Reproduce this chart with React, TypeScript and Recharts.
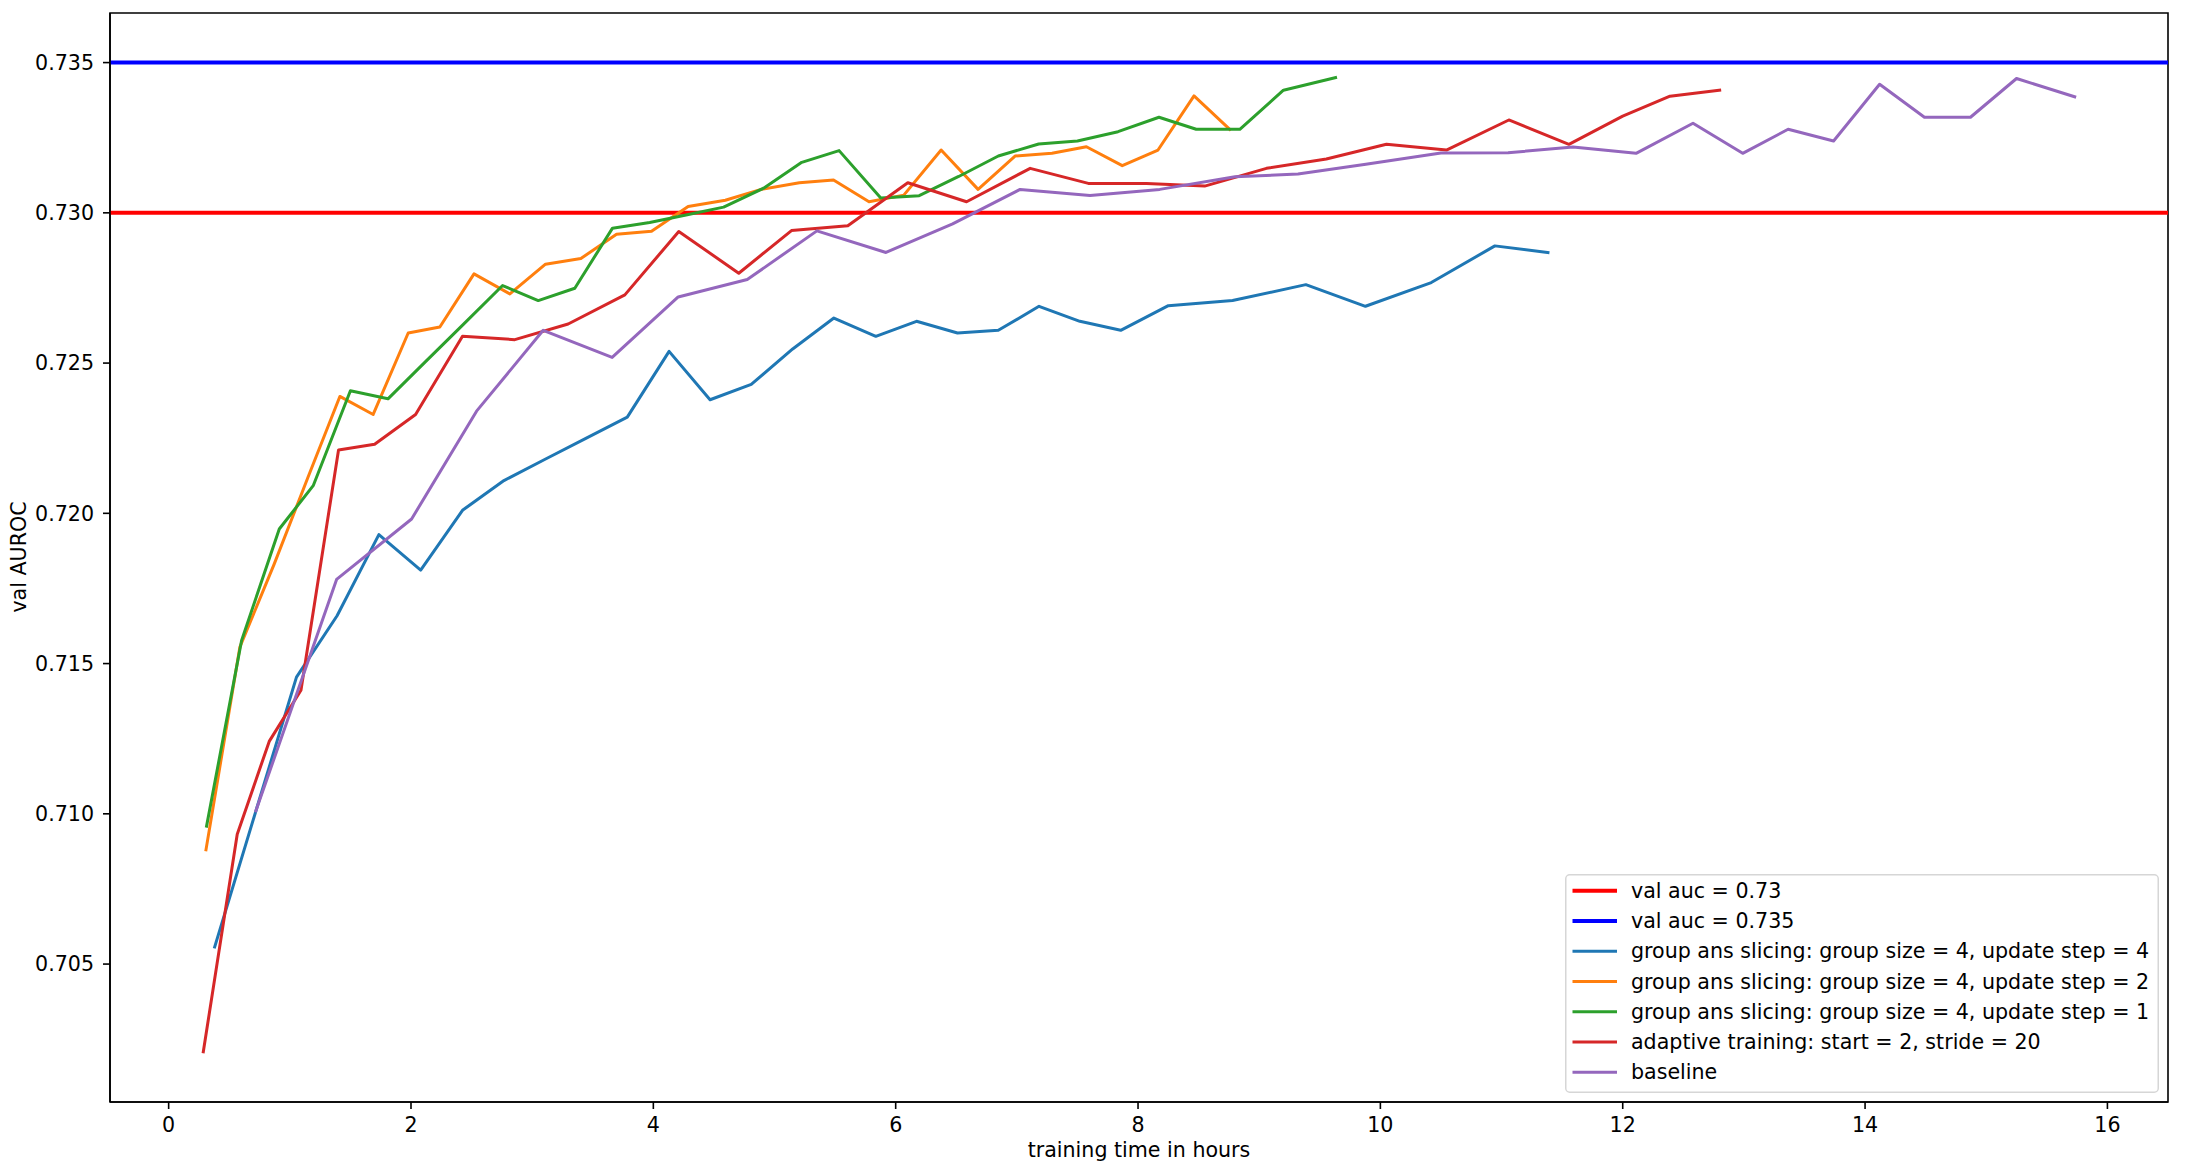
import { LineChart, Line, XAxis, YAxis, ReferenceLine, ReferenceArea } from "recharts";

const FONT = "'DejaVu Sans', sans-serif";
const FONT_SIZE = 20.6;

// axis limits (matplotlib autoscale with 5% margins)
const X_MIN = -0.484;
const X_MAX = 16.5;
const Y_MIN = 0.70041;
const Y_MAX = 0.73665;

const xTicks = [0, 2, 4, 6, 8, 10, 12, 14, 16];
const yTicks = [0.705, 0.71, 0.715, 0.72, 0.725, 0.73, 0.735];

const targetLow = 0.73;
const targetHigh = 0.735;

// group ans slicing: group size = 4, update step = 4
const step4Hours = [0.38, 1.055, 1.39, 1.735, 2.08, 2.425, 2.767, 3.107, 3.447, 3.785, 4.13, 4.468, 4.808, 5.15, 5.49, 5.836, 6.172, 6.51, 6.847, 7.183, 7.52, 7.857, 8.25, 8.78, 9.385, 9.877, 10.42, 10.945, 11.383];
const step4Auc = [0.70557, 0.71455, 0.71659, 0.71929, 0.71811, 0.7201, 0.72109, 0.7218, 0.7225, 0.7232, 0.72539, 0.72378, 0.72429, 0.72547, 0.7265, 0.72589, 0.72639, 0.726, 0.72609, 0.72689, 0.72639, 0.72609, 0.72691, 0.72708, 0.72761, 0.72689, 0.72768, 0.7289, 0.72868];

// group ans slicing: group size = 4, update step = 2
const step2Hours = [0.308, 0.588, 0.87, 1.15, 1.413, 1.688, 1.977, 2.238, 2.52, 2.816, 3.11, 3.402, 3.696, 3.985, 4.287, 4.594, 4.89, 5.205, 5.487, 5.78, 6.067, 6.375, 6.68, 6.985, 7.29, 7.574, 7.87, 8.165, 8.462, 8.757];
const step2Auc = [0.7088, 0.71555, 0.7183, 0.7212, 0.72389, 0.72329, 0.726, 0.7262, 0.72797, 0.7273, 0.72829, 0.72848, 0.72929, 0.72939, 0.73021, 0.73042, 0.73078, 0.731, 0.73109, 0.73037, 0.73059, 0.73209, 0.73078, 0.73189, 0.73198, 0.7322, 0.73157, 0.73209, 0.73389, 0.73278];

// group ans slicing: group size = 4, update step = 1
const step1Hours = [0.313, 0.602, 0.913, 1.193, 1.5, 1.81, 2.12, 2.43, 2.756, 3.05, 3.352, 3.663, 3.97, 4.27, 4.58, 4.91, 5.225, 5.533, 5.877, 6.194, 6.52, 6.847, 7.18, 7.5, 7.835, 8.173, 8.48, 8.84, 9.2, 9.63];
const step1Auc = [0.70959, 0.71577, 0.71948, 0.72092, 0.72408, 0.72381, 0.72505, 0.72628, 0.72758, 0.72708, 0.72749, 0.72949, 0.72968, 0.72993, 0.73019, 0.73082, 0.73168, 0.73207, 0.73049, 0.73057, 0.73121, 0.73189, 0.73229, 0.73239, 0.7327, 0.73318, 0.73278, 0.73278, 0.73408, 0.7345];

// adaptive training: start = 2, stride = 20
const adaptiveHours = [0.286, 0.566, 0.83, 1.092, 1.402, 1.7, 2.038, 2.425, 2.857, 3.297, 3.765, 4.21, 4.705, 5.14, 5.605, 6.1, 6.585, 7.11, 7.59, 8.07, 8.55, 9.06, 9.554, 10.05, 10.545, 11.06, 11.556, 12.0, 12.39, 12.8];
const adaptiveAuc = [0.70208, 0.70932, 0.71241, 0.71411, 0.72211, 0.7223, 0.72329, 0.72589, 0.72578, 0.7263, 0.72727, 0.72938, 0.72799, 0.72941, 0.72957, 0.731, 0.73037, 0.73148, 0.73098, 0.73098, 0.73089, 0.73148, 0.73179, 0.73228, 0.73209, 0.73309, 0.73228, 0.73322, 0.73388, 0.73408];

// baseline
const baselineHours = [0.72, 1.386, 2.005, 2.541, 3.091, 3.66, 4.205, 4.775, 5.35, 5.92, 6.47, 7.027, 7.604, 8.179, 8.8, 9.32, 9.88, 10.5, 11.054, 11.59, 12.11, 12.58, 12.99, 13.365, 13.74, 14.12, 14.49, 14.87, 15.25, 15.73];
const baselineAuc = [0.7101, 0.7178, 0.71981, 0.7234, 0.72609, 0.72519, 0.7272, 0.72778, 0.7294, 0.72868, 0.72963, 0.73078, 0.73058, 0.73078, 0.7312, 0.73129, 0.73162, 0.73199, 0.732, 0.73219, 0.73198, 0.73298, 0.73198, 0.73278, 0.73239, 0.73428, 0.73318, 0.73318, 0.73447, 0.73386];

const legendLabels = [
  "val auc = 0.73",
  "val auc = 0.735",
  "group ans slicing: group size = 4, update step = 4",
  "group ans slicing: group size = 4, update step = 2",
  "group ans slicing: group size = 4, update step = 1",
  "adaptive training: start = 2, stride = 20",
  "baseline",
];
const legendColors = ["#ff0000", "#0000ff", "#1f77b4", "#ff7f0e", "#2ca02c", "#d62728", "#9467bd"];
const legendWidths = [4, 4, 3, 3, 3, 3, 3];

const zip = (hours: number[], auc: number[]) => hours.map((t, i) => ({ t, auc: auc[i] }));

const series = [
  { name: legendLabels[2], color: legendColors[2], data: zip(step4Hours, step4Auc) },
  { name: legendLabels[3], color: legendColors[3], data: zip(step2Hours, step2Auc) },
  { name: legendLabels[4], color: legendColors[4], data: zip(step1Hours, step1Auc) },
  { name: legendLabels[5], color: legendColors[5], data: zip(adaptiveHours, adaptiveAuc) },
  { name: legendLabels[6], color: legendColors[6], data: zip(baselineHours, baselineAuc) },
];

const tickStyle = { fill: "#000", fontSize: FONT_SIZE, fontFamily: FONT };
const axisStroke = { stroke: "#000", strokeWidth: 1.6 };

function ChartLegend() {
  return (
    <svg
      width={594}
      height={219}
      style={{ position: "absolute", left: 1565, top: 874 }}
    >
      <rect
        x={0.75}
        y={0.75}
        width={592.5}
        height={217.5}
        rx={4}
        fill="#fff"
        fillOpacity={0.8}
        stroke="#d6d6d6"
        strokeWidth={1.5}
      />
      {legendLabels.map((label, i) => {
        const cy = 16.7 + i * 30.27;
        return (
          <g key={label}>
            <line x1={7.5} x2={52} y1={cy} y2={cy} stroke={legendColors[i]} strokeWidth={legendWidths[i]} />
            <text x={66} y={cy} dominantBaseline="central" fontSize={FONT_SIZE} fontFamily={FONT} fill="#000">
              {label}
            </text>
          </g>
        );
      })}
    </svg>
  );
}

export default function App() {
  return (
    <div style={{ position: "relative", width: 2186, height: 1170, background: "#fff" }}>
      <style>{"body{margin:0}"}</style>
      <LineChart width={2186} height={1170} margin={{ top: 13, right: 18, left: 0, bottom: 0 }}>
        <XAxis
          dataKey="t"
          type="number"
          domain={[X_MIN, X_MAX]}
          ticks={xTicks}
          interval={0}
          allowDataOverflow
          height={68}
          tickSize={7}
          tickMargin={8}
          axisLine={axisStroke}
          tickLine={axisStroke}
          tick={tickStyle}
          label={() => (
            <text x={1139} y={1157} textAnchor="middle" fontSize={FONT_SIZE} fontFamily={FONT} fill="#000">
              training time in hours
            </text>
          )}
        />
        <YAxis
          type="number"
          domain={[Y_MIN, Y_MAX]}
          ticks={yTicks}
          interval={0}
          allowDataOverflow
          width={110}
          tickSize={7}
          tickMargin={9}
          axisLine={axisStroke}
          tickLine={axisStroke}
          tick={tickStyle}
          tickFormatter={(v: number) => v.toFixed(3)}
          label={() => (
            <text
              x={26}
              y={557}
              transform="rotate(-90, 26, 557)"
              textAnchor="middle"
              fontSize={FONT_SIZE}
              fontFamily={FONT}
              fill="#000"
            >
              val AUROC
            </text>
          )}
        />
        <ReferenceArea
          x1={X_MIN}
          x2={X_MAX}
          y1={Y_MIN}
          y2={Y_MAX}
          fill="none"
          stroke="#000"
          strokeWidth={1.6}
        />
        <ReferenceLine y={targetLow} stroke={legendColors[0]} strokeWidth={4} />
        <ReferenceLine y={targetHigh} stroke={legendColors[1]} strokeWidth={4} />
        {series.map((s) => (
          <Line
            key={s.name}
            data={s.data}
            dataKey="auc"
            name={s.name}
            type="linear"
            stroke={s.color}
            strokeWidth={3}
            strokeLinejoin="round"
            strokeLinecap="square"
            dot={false}
            activeDot={false}
            isAnimationActive={false}
          />
        ))}
      </LineChart>
      <ChartLegend />
    </div>
  );
}
